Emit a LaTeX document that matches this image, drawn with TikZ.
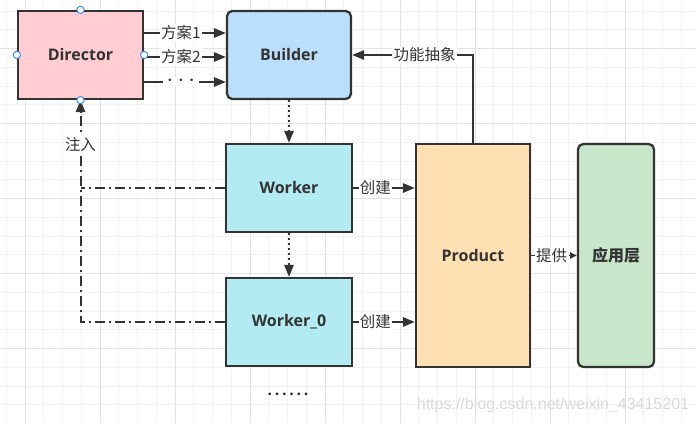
\documentclass[tikz,border=0pt]{standalone}
\usepackage{fontspec}
\newfontfamily\cjk{Noto Sans CJK SC}
\newfontfamily\lat{Open Sans}
\newfontfamily\wm{Liberation Sans}
\usetikzlibrary{arrows.meta,calc}
\definecolor{ink}{HTML}{333333}
\definecolor{dirfill}{HTML}{FFCDD2}
\definecolor{bldfill}{HTML}{BBDEFB}
\definecolor{wrkfill}{HTML}{B2EBF2}
\definecolor{prdfill}{HTML}{FFE0B2}
\definecolor{appfill}{HTML}{C8E6C9}
\definecolor{gridminor}{HTML}{F2F2F2}
\definecolor{gridmajor}{HTML}{E3E3E3}
\definecolor{handle}{HTML}{2F8CFF}
\tikzset{
  box/.style={draw=ink, line width=1.7pt, text=ink, font=\lat\bfseries\fontsize{12}{14}\selectfont, inner sep=0pt},
  conn/.style={draw=ink, line width=1.5pt, -{Triangle[length=9pt,width=7pt]}},
  lbl/.style={fill=white, text=ink, font=\cjk\fontsize{11.6}{13}\selectfont, inner sep=1pt},
  dotline/.style={dash pattern=on 1.5pt off 2.25pt},
  dashdotline/.style={dash pattern=on 7.5pt off 3pt on 1.5pt off 3pt},
  hdl/.style={circle, draw=handle, fill=white, line width=0.7pt, minimum size=5.5pt, inner sep=0pt},
}
\begin{document}
\begin{tikzpicture}[x=0.75pt, y=-0.75pt]
\useasboundingbox (0,0) rectangle (697,423);
\fill[white] (0,0) rectangle (697,423);
% grid
\foreach \i in {0,...,36} {\draw[gridminor, line width=0.75pt] (6.25+18.75*\i,0) -- (6.25+18.75*\i,423);}
\foreach \j in {0,...,22} {\draw[gridminor, line width=0.75pt] (0,11.2+18.75*\j) -- (697,11.2+18.75*\j);}
\foreach \i in {0,...,8} {\draw[gridmajor, line width=0.75pt] (25+75*\i,0) -- (25+75*\i,423);}
\foreach \j in {0,...,4} {\draw[gridmajor, line width=0.75pt] (0,48.7+75*\j) -- (697,48.7+75*\j);}
% boxes
\node[box, fill=dirfill, minimum width=93.75pt, minimum height=66pt] (D) at (80.5,55) {Director};
\node[box, fill=bldfill, rounded corners=4pt, minimum width=93pt, minimum height=66pt] (B) at (289,55) {Builder};
\node[box, fill=wrkfill, minimum width=94.5pt, minimum height=66pt] (W) at (289,188) {Worker};
\node[box, fill=wrkfill, minimum width=94.5pt, minimum height=66pt] (W0) at (289,322) {Worker\_0};
\node[box, fill=prdfill, minimum width=85.5pt, minimum height=167.25pt] (P) at (473,255.5) {Product};
\node[box, fill=appfill, rounded corners=4pt, minimum width=57pt, minimum height=167.25pt, font=\cjk\bfseries\fontsize{12}{14}\selectfont] (A) at (616,255.5) {应用层};
% director -> builder
\draw[conn] ([yshift=16.5pt]D.east) -- node[lbl, pos=0.45] {方案1} ([yshift=16.5pt]B.west);
\draw[conn] ([yshift=-1.5pt]D.east) -- node[lbl, pos=0.45] {方案2} ([yshift=-1.5pt]B.west);
\draw[conn] ([yshift=-20.25pt]D.east) -- node[lbl, pos=0.45, inner xsep=4pt, font=\lat\bfseries\fontsize{11}{13}\selectfont] {·\hspace{5pt}·\hspace{5pt}·} ([yshift=-20.25pt]B.west);
% builder -> workers
\draw[conn, dotline] (B.south) -- (W.north);
\draw[conn, dotline] (W.south) -- (W0.north);
% create
\draw[conn] (W.east) -- node[lbl, pos=0.36] {创建} (W.east -| P.west);
\draw[conn] (W0.east) -- node[lbl, pos=0.36] {创建} (W0.east -| P.west);
% provide
\draw[draw=ink, line width=1.2pt, -{Triangle[length=5pt,width=4.5pt]}] (P.east) -- node[lbl, pos=0.45] {提供} (A.west);
% abstraction
\draw[conn] (P.north) |- node[lbl, pos=0.7] {功能抽象} (B.east);
% injection
\coordinate (c1) at (W.west -| D.south);
\coordinate (c0) at (W0.west -| D.south);
\draw[draw=ink, line width=1.5pt, dashdotline] (W.west) -- (c1);
\draw[conn, dashdotline] (W0.west) -- (c0) -- node[lbl, pos=0.8] {注入} (D.south);
% handles
\foreach \a in {north,south,east,west} {\node[hdl] at (D.\a) {};}
% ellipsis
\node[text=ink, font=\lat\bfseries\fontsize{12}{14}\selectfont] (dots) at (288,394) {.\,.\,.\,.\,.\,.};
% watermark
\node[text=gray!30, font=\wm\fontsize{12}{14}\selectfont, inner sep=0pt] (wmk) at (553,405) {https://blog.csdn.net/weixin\_43415201};
\end{tikzpicture}
\end{document}
